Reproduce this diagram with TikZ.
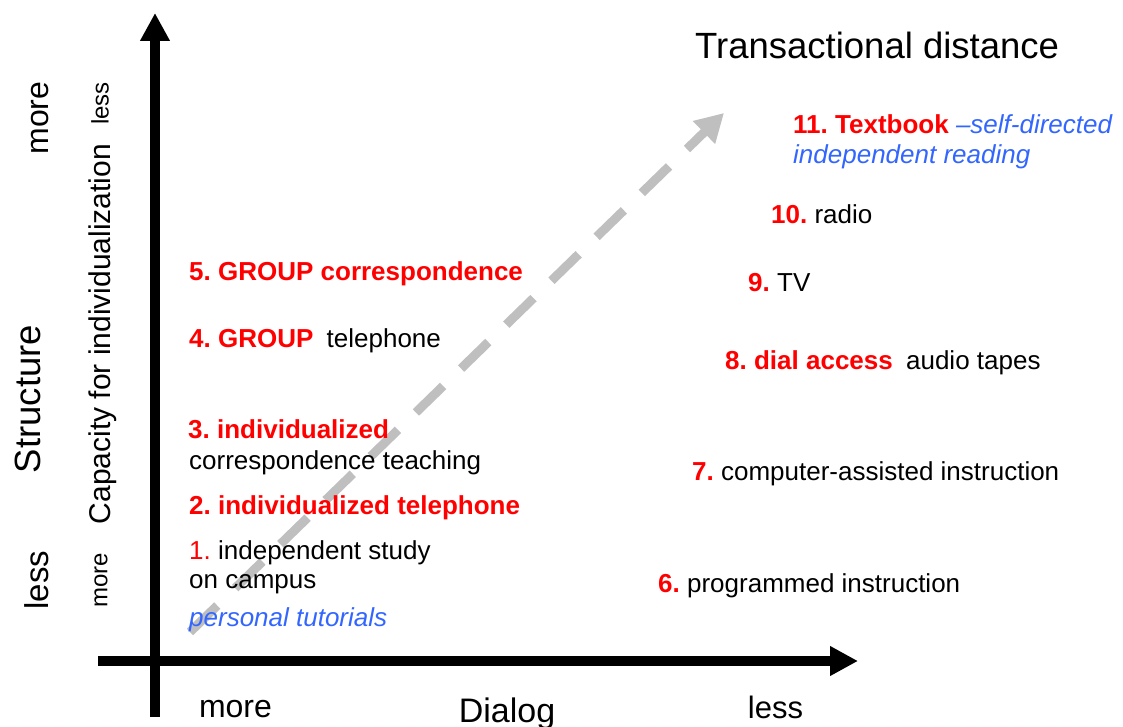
\documentclass[tikz,border=0pt]{standalone}
\usepackage{fontspec}
\setmainfont{Liberation Sans}
\usetikzlibrary{arrows.meta}
\frenchspacing
\definecolor{trendgray}{RGB}{191,191,191}
\definecolor{itemred}{RGB}{255,0,0}
\definecolor{noteblue}{RGB}{51,102,255}
\newcommand{\rb}[1]{\textcolor{itemred}{\textbf{#1}}}
\newcommand{\rn}[1]{\textcolor{itemred}{#1}}
\newcommand{\bi}[1]{\textcolor{noteblue}{\textit{#1}}}
\begin{document}
\begin{tikzpicture}[x=1pt,y=-1pt,
  axisline/.style={line width=10pt, -{Triangle[length=28pt,width=28pt]}},
  trend/.style={line width=9pt, trendgray, dash pattern=on 38pt off 25pt, -{Triangle[length=28pt,width=30pt]}},
  lbl/.style={inner sep=0pt, anchor=base west, font=\fontsize{26}{31}\selectfont},
  titlelbl/.style={inner sep=0pt, anchor=base west, font=\fontsize{36.5}{44}\selectfont},
  axl/.style={inner sep=0pt, anchor=base},
  vl/.style={inner sep=0pt, anchor=center, rotate=90}]
\fill[white] (0,0) rectangle (1123,727);
\useasboundingbox (0,0) rectangle (1123,727);

% coordinates
\coordinate (vbot) at (155,717);
\coordinate (vtop) at (155,13);
\coordinate (hleft) at (98,661);
\coordinate (hright) at (858,661);
\coordinate (tstart) at (190,632);
\coordinate (tend) at (724,113);

% trend arrow (behind text)
\draw[trend] (tstart) -- (tend);

% axes
\draw[axisline] (vbot) -- (vtop);
\draw[axisline] (hleft) -- (hright);

% title
\node[titlelbl] (title) at (695,59) {Transactional distance};

% right column items
\node[lbl] (i11) at (793,134) {\rb{11. Textbook} \bi{–self-directed}};
\node[lbl] (i11b) at (793,164) {\bi{independent reading}};
\node[lbl] (i10) at (771,223) {\rb{10.} radio};
\node[lbl] (i9) at (748,291) {\rb{9.} TV};
\node[lbl] (i8) at (725,369) {\rb{8. dial access}\hspace{6pt} audio tapes};
\node[lbl] (i7) at (692,480) {\rb{7.} computer-assisted instruction};
\node[lbl] (i6) at (658,592) {\rb{6.} programmed instruction};

% left column items
\node[lbl] (i5) at (189,280) {\rb{5. GROUP correspondence}};
\node[lbl] (i4) at (189,347) {\rb{4. GROUP}\hspace{6pt} telephone};
\node[lbl] (i3) at (188,438) {\rb{3. individualized}};
\node[lbl] (i3b) at (189,469) {correspondence teaching};
\node[lbl] (i2) at (189,514) {\rb{2. individualized telephone}};
\node[lbl] (i1) at (189,559) {\rn{1.} independent study};
\node[lbl] (i1b) at (189,588) {on campus};
\node[lbl] (i1c) at (189,626) {\bi{personal tutorials}};

% bottom axis labels
\node[axl, font=\fontsize{32}{38}\selectfont] (dmore) at (235.5,717) {more};
\node[axl, font=\fontsize{34}{41}\selectfont] (dialog) at (507,722) {Dialog};
\node[axl, font=\fontsize{31}{37}\selectfont] (dless) at (775.5,718) {less};

% vertical axis labels
\node[vl, font=\fontsize{32}{38}\selectfont] (smore) at (40,118) {more};
\node[vl, font=\fontsize{36.5}{44}\selectfont] (struct) at (28,399) {Structure};
\node[vl, font=\fontsize{33}{40}\selectfont] (sless) at (36.5,580) {less};
\node[vl, font=\fontsize{30}{36}\selectfont] (cap) at (103,334) {Capacity for individualization};
\node[vl, font=\fontsize{24}{29}\selectfont] (cless) at (100,103.5) {less};
\node[vl, font=\fontsize{24}{29}\selectfont] (cmore) at (101,580.5) {more};
\end{tikzpicture}
\end{document}
